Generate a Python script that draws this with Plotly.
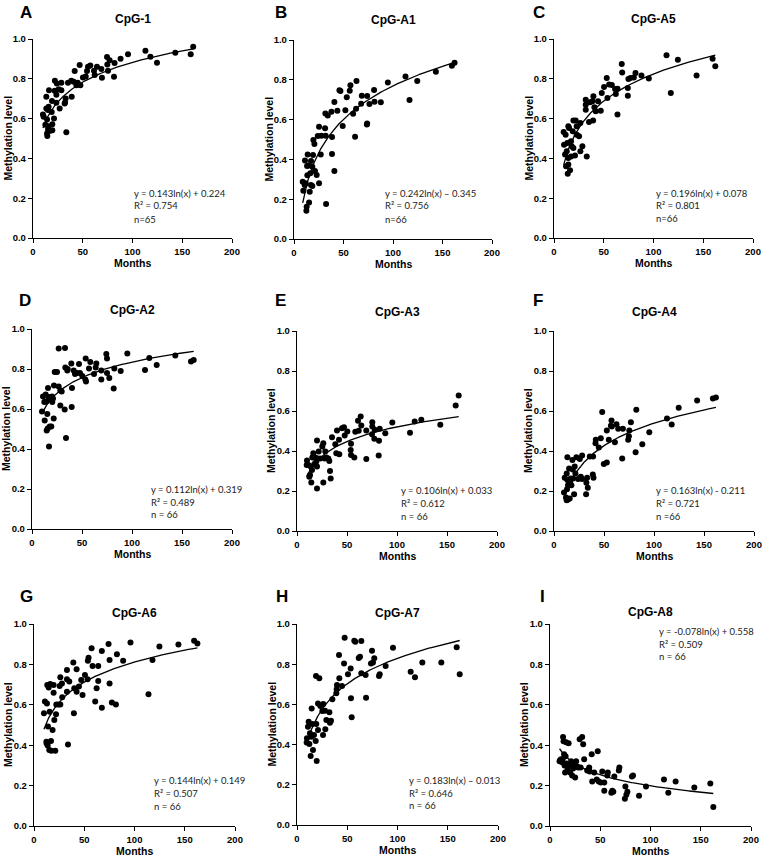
import numpy as np
import plotly.graph_objects as go

W, H = 763, 861

# ---------------- data (months, methylation level) ----------------
months_A = [161,158.5,143,124.6,118,113,95.5,88,82,81.4,77,74.4,74.7,75.4,69.3,68.7,64.3,62,61.3,57.6,
            55.3,54.3,53,50.2,47.6,46.9,44.9,41.9,40.9,38.5,38.9,35.2,33.5,32.8,32.2,28.5,28.5,26.8,25.8,23.5,
            22,21.8,21.1,19.4,19.4,17.4,19.1,18.8,16.1,15.7,15.1,15.1,14.4,14.1,13.4,14.1,13.4,12.4,10.7,10,
            15.7,23.5,31.8,43.6,24]
level_A = [0.961,0.923,0.931,0.881,0.911,0.941,0.923,0.901,0.879,0.81,0.893,0.909,0.872,0.84,0.805,0.849,0.861,0.819,0.84,0.867,
           0.861,0.839,0.812,0.807,0.768,0.869,0.78,0.839,0.785,0.79,0.71,0.78,0.532,0.701,0.681,0.743,0.78,0.651,0.747,0.72,
           0.79,0.74,0.601,0.572,0.542,0.539,0.688,0.633,0.743,0.659,0.643,0.545,0.512,0.525,0.71,0.596,0.651,0.569,0.609,0.621,
           0.562,0.68,0.676,0.768,0.777]

months_B = [162.2,159.5,143.3,124.5,116.7,112.6,94.8,87.7,81.3,80.9,76.2,73.9,73.6,73.9,68.5,67.8,63.1,62.7,61.7,59.7,
            57,56.3,53.3,51.9,49.2,46.9,45.9,43.8,40.8,40.8,38.4,38.4,37.8,34.1,31.7,31.4,32.4,32,27.7,27,
            25.3,25.3,24,21.2,20.6,19.6,19.2,18.5,18.5,17.2,16.5,15.9,15.2,14.5,13.8,13.5,13.2,12.8,12.5,11.8,
            11.1,10.8,8.8,9.4,17.2,22.9]
level_B = [0.886,0.871,0.841,0.794,0.698,0.816,0.786,0.687,0.69,0.749,0.678,0.719,0.576,0.581,0.72,0.68,0.794,0.655,0.514,0.63,
           0.772,0.745,0.712,0.647,0.568,0.744,0.747,0.645,0.688,0.342,0.427,0.513,0.64,0.62,0.631,0.556,0.176,0.519,0.519,0.424,
           0.564,0.28,0.518,0.342,0.477,0.497,0.422,0.363,0.266,0.392,0.33,0.238,0.184,0.369,0.425,0.32,0.367,0.162,0.142,0.28,
           0.394,0.271,0.288,0.243,0.271,0.322]

months_C = [162.1,159.4,143.3,124.5,117.4,113.1,95.3,87.9,81.9,80.2,76.8,74.8,74.2,74.2,68.5,68.1,63.8,63.8,62.1,61.4,
            58.1,55.4,53.7,53,50.3,48,47,44.3,41.9,40.6,39.6,39.3,38.6,35.2,32.9,31.9,31.9,31.9,28.5,26.5,
            26.5,25.2,22.8,21.8,21.1,19.5,19.5,18.8,17.1,17.1,16.1,15.1,14.4,14.4,13.8,13.4,12.8,12.1,11.1,10.1,
            9.7,14.4,17.8,11.7,22.8,36.2]
level_C = [0.863,0.901,0.816,0.896,0.729,0.918,0.802,0.816,0.829,0.807,0.804,0.799,0.754,0.715,0.832,0.874,0.62,0.75,0.724,0.749,
           0.769,0.771,0.704,0.804,0.759,0.729,0.64,0.687,0.637,0.657,0.712,0.591,0.687,0.583,0.409,0.695,0.645,0.67,0.461,0.436,
           0.578,0.511,0.561,0.591,0.415,0.591,0.452,0.536,0.41,0.486,0.34,0.553,0.402,0.369,0.323,0.477,0.436,0.36,0.419,0.469,
           0.533,0.561,0.461,0.519,0.519,0.682]

months_D = [161.7,159,143.3,124.7,117.3,113,95.3,88.7,82.3,81.7,77.3,75,75,74.3,69.3,69.3,64.3,63.7,62,58.3,
            57,54,53.7,53.3,50.3,48,47,45,43,41.7,40,39.7,39.3,35.7,34,32.7,33.3,33,28.3,28.3,
            26.7,26.7,25,22.7,21.7,22,20.3,20,19.3,17.7,17,16.7,16,15.7,15.3,14.7,14.3,13.7,12.7,12.3,
            11,10,17.7,21,29.7,35.3]
level_D = [0.845,0.837,0.868,0.82,0.855,0.795,0.877,0.79,0.802,0.702,0.755,0.78,0.852,0.875,0.792,0.747,0.827,0.808,0.775,0.835,
           0.802,0.738,0.852,0.748,0.765,0.78,0.825,0.78,0.775,0.792,0.705,0.61,0.827,0.8,0.455,0.597,0.807,0.905,0.618,0.692,
           0.712,0.902,0.785,0.785,0.552,0.718,0.635,0.663,0.513,0.513,0.412,0.66,0.705,0.502,0.575,0.493,0.638,0.672,0.542,0.635,
           0.663,0.588,0.647,0.652,0.688,0.793]

months_E = [161.7,158.7,143.3,124.3,117.7,113,95.3,88.3,82.7,82,81.7,77.7,77.3,75.3,75.3,75,69.3,69.3,64.3,63.7,
            61.7,61,58.3,57.3,54,54,53.7,50.3,47.7,47,45,42.3,42,40,39.3,38.3,35,33.7,33,32.3,
            31.3,28.3,27.7,26.3,26.3,25.3,21.7,20.7,20,20,19.3,18.3,17.3,16.3,15.3,14.3,13.7,13,12.3,11.3,
            10,9.7,23.3,15,29.3,20]
level_E = [0.678,0.628,0.531,0.556,0.548,0.491,0.543,0.489,0.511,0.451,0.377,0.506,0.461,0.544,0.523,0.484,0.36,0.503,0.528,0.573,
           0.501,0.551,0.496,0.367,0.38,0.436,0.405,0.497,0.477,0.519,0.514,0.384,0.456,0.503,0.389,0.434,0.469,0.263,0.3,0.35,
           0.363,0.397,0.363,0.243,0.439,0.422,0.397,0.363,0.213,0.452,0.347,0.367,0.335,0.389,0.367,0.243,0.322,0.28,0.271,0.33,
           0.352,0.33,0.363,0.305,0.367,0.322]

months_F = [161.9,158.9,143.1,124.7,117.7,113,95.3,88.3,81.6,82.3,76.9,75.3,74.9,74.2,68.9,68.2,64.2,62.5,60.9,57.5,
            56.9,54.8,52.8,52.8,49.8,48.2,46.8,44.8,41.8,41.5,39.1,38.8,39.5,35.8,33.8,33.1,32.4,32.1,28.1,28.1,
            25.8,24.1,22.4,20.7,20.1,19.1,18.7,18.4,16.7,15.7,15.1,14,13.4,13.4,13,12.7,12,10.7,10,14,
            17.4,21.4,26.8,12.7,16.1,57.8]
level_F = [0.668,0.662,0.653,0.616,0.533,0.563,0.494,0.434,0.394,0.606,0.544,0.503,0.474,0.456,0.511,0.363,0.511,0.534,0.444,0.553,
           0.526,0.456,0.503,0.342,0.335,0.595,0.464,0.417,0.456,0.439,0.372,0.283,0.266,0.372,0.216,0.266,0.241,0.184,0.377,0.26,
           0.36,0.26,0.369,0.322,0.184,0.263,0.308,0.355,0.263,0.162,0.313,0.157,0.369,0.255,0.209,0.154,0.168,0.266,0.193,0.229,
           0.229,0.288,0.271,0.288,0.246,0.522]

months_G = [162.6,159.3,143.7,124.8,117.9,113.9,96,88.7,82.5,81.5,77.5,75.2,75.2,74.2,67.5,67.5,63.9,63.9,62.3,60.9,
            58.3,57.3,54.3,53.6,53.3,50.7,48.3,47,44.7,42.4,42.4,40.1,39.1,39.7,35.1,33.8,32.8,32.8,32.8,28.1,
            27.8,26.2,26.2,25.5,22.2,21.9,21.2,20.2,19.5,19.5,18.5,17.2,16.2,16.9,15.6,15.2,14.6,13.9,13.6,13.2,
            12.9,12.3,10.9,9.9,12.6,24.5]
level_G = [0.904,0.917,0.899,0.888,0.822,0.652,0.908,0.818,0.85,0.602,0.611,0.822,0.706,0.901,0.866,0.586,0.792,0.718,0.682,0.616,
           0.792,0.88,0.833,0.818,0.726,0.748,0.649,0.723,0.69,0.776,0.665,0.682,0.809,0.558,0.715,0.404,0.772,0.726,0.665,0.637,
           0.706,0.736,0.602,0.693,0.602,0.553,0.373,0.525,0.66,0.698,0.475,0.373,0.703,0.421,0.566,0.376,0.686,0.492,0.398,0.698,
           0.607,0.417,0.616,0.558,0.409,0.602]

months_H = [161.9,158.9,143.6,124.7,117.4,113.1,95.5,88.2,82.3,81.6,76.9,75.6,74.6,73.6,68.7,68.3,64,64,62.7,61.4,
            58,57,54.4,53.7,53.4,50.7,47.4,46.8,44.8,42.1,41.8,39.8,39.5,39.1,35.2,33.8,32.8,32.2,28.2,27.9,
            26.2,25.9,25.2,23.2,22.2,20.9,20.9,19.2,18.9,19.6,18.6,16.9,15.9,15.3,14.6,13.6,12.9,12.3,11.6,10.9,
            9.9,9.6,14.3,29.2]
level_H = [0.75,0.884,0.808,0.808,0.735,0.763,0.882,0.791,0.75,0.741,0.829,0.808,0.867,0.804,0.633,0.746,0.755,0.915,0.837,0.831,
           0.912,0.917,0.536,0.63,0.778,0.75,0.932,0.804,0.692,0.73,0.846,0.697,0.675,0.655,0.625,0.519,0.509,0.561,0.476,0.569,
           0.602,0.448,0.567,0.592,0.73,0.605,0.473,0.502,0.741,0.318,0.418,0.448,0.373,0.502,0.58,0.343,0.456,0.403,0.514,0.489,
           0.431,0.41,0.439,0.522]

months_I = [162.5,159.5,143.6,125,117.7,113.4,95.5,88.6,82.6,81.5,77,76,75,74.5,69,68.5,64,63,62,61,
            57.5,57,54,54,52,50.5,48.5,47.5,46.5,44,42,41.5,39.5,39,37,34,33,32,30.5,29.5,
            27,26,25,24,23,22,21,20,19,18.5,17.5,16.5,16,15.5,15,14.5,14,13.5,13,12.5,
            12,11,10,9.5,20,28]
level_I = [0.094,0.21,0.19,0.22,0.165,0.23,0.195,0.15,0.25,0.245,0.17,0.155,0.195,0.135,0.29,0.275,0.245,0.17,0.175,0.165,
           0.265,0.25,0.215,0.175,0.27,0.215,0.22,0.37,0.23,0.265,0.22,0.355,0.27,0.29,0.275,0.33,0.405,0.44,0.29,0.43,
           0.295,0.32,0.24,0.31,0.285,0.25,0.32,0.265,0.305,0.41,0.28,0.31,0.415,0.345,0.265,0.3,0.355,0.42,0.44,0.33,
           0.315,0.33,0.325,0.32,0.3,0.29]

letters = ["A", "B", "C", "D", "E", "F", "G", "H", "I"]
titles = ["CpG-1", "CpG-A1", "CpG-A5", "CpG-A2", "CpG-A3", "CpG-A4", "CpG-A6", "CpG-A7", "CpG-A8"]
# coefficients of the drawn logarithmic trend lines (panel C's drawn line has a negative intercept)
fit_a = [0.143, 0.242, 0.196, 0.112, 0.106, 0.163, 0.144, 0.183, -0.078]
fit_b = [0.224, -0.345, -0.078, 0.319, 0.033, -0.211, 0.149, -0.013, 0.558]
eq_text = [
    ["y = 0.143ln(x) + 0.224", "R² = 0.754", "n=65"],
    ["y = 0.242ln(x) – 0.345", "R² = 0.756", "n=66"],
    ["y = 0.196ln(x) + 0.078", "R² = 0.801", "n=66"],
    ["y = 0.112ln(x) + 0.319", "R² = 0.489", "n = 66"],
    ["y = 0.106ln(x) + 0.033", "R² = 0.612", "n = 66"],
    ["y = 0.163ln(x) - 0.211", "R² = 0.721", "n =66"],
    ["y = 0.144ln(x) + 0.149", "R² = 0.507", "n = 66"],
    ["y = 0.183ln(x) – 0.013", "R² = 0.646", "n = 66"],
    ["y = -0.078ln(x) + 0.558", "R² = 0.509", "n = 66"],
]
x_ticks = [0, 50, 100, 150, 200]
y_ticks = [0.0, 0.2, 0.4, 0.6, 0.8, 1.0]

months = [months_A, months_B, months_C, months_D, months_E, months_F, months_G, months_H, months_I]
levels = [level_A, level_B, level_C, level_D, level_E, level_F, level_G, level_H, level_I]

# ---------------- layout geometry (pixels) ----------------
plot_px = [  # x0, x1, ytop, ybottom
    (33, 232, 39, 238), (294, 492, 40, 239), (554, 753, 39, 238),
    (32, 232, 329, 529), (297, 497, 331, 531), (554, 754, 331, 531),
    (34, 235, 624, 826), (297, 498, 624, 825), (550, 751, 624, 826),
]
letter_px = [(18, 13), (273, 13), (531, 13), (17, 300), (273, 300), (531, 300),
             (18, 596), (274, 596), (538, 596)]
title_y = [19, 20, 19, 310, 312, 312, 613, 613, 612]
eq_pos = [  # data-x of left edge, y of three lines
    (99, [0.223, 0.161, 0.094]), (90, [0.229, 0.168, 0.1]), (100, [0.226, 0.164, 0.097]),
    (117, [0.2, 0.135, 0.072]), (102, [0.201, 0.137, 0.075]), (100, [0.201, 0.137, 0.075]),
    (117, [0.223, 0.162, 0.099]), (109, [0.219, 0.158, 0.095]), (106, [0.962, 0.901, 0.841]),
]

def px(x):
    return x / W

def py(y):
    return 1 - y / H

BOLD = "Liberation Sans, Arial, sans-serif"
fig = go.Figure()
layout = dict(
    width=W, height=H, margin=dict(l=0, r=0, t=0, b=0),
    paper_bgcolor="white", plot_bgcolor="white", showlegend=False,
    template="none",
)
annotations = []

for i in range(9):
    n = i + 1
    xa = "x" if n == 1 else f"x{n}"
    ya = "y" if n == 1 else f"y{n}"
    mx = months[i]
    lv = levels[i]
    fig.add_trace(go.Scatter(x=mx, y=lv, mode="markers", xaxis=xa, yaxis=ya,
                             marker=dict(color="black", size=6, line=dict(width=0)),
                             cliponaxis=False))
    xs = np.linspace(min(mx), max(mx), 200)
    fig.add_trace(go.Scatter(x=xs, y=fit_a[i] * np.log(xs) + fit_b[i], mode="lines",
                             xaxis=xa, yaxis=ya, line=dict(color="black", width=1.3)))

    x0, x1, yt, yb = plot_px[i]
    axis_common = dict(showline=True, linecolor="black", linewidth=1.4, ticks="outside",
                       ticklen=4, tickwidth=1.4, tickcolor="black", showgrid=False,
                       zeroline=False, automargin=False,
                       tickfont=dict(family=BOLD, size=9.5, color="black", weight="bold"))
    layout["xaxis" if n == 1 else f"xaxis{n}"] = dict(
        domain=[px(x0), px(x1)], anchor=ya, range=[0, 200], tickvals=x_ticks, **axis_common)
    layout["yaxis" if n == 1 else f"yaxis{n}"] = dict(
        domain=[py(yb), py(yt)], anchor=xa, range=[0, 1], tickvals=y_ticks,
        tickformat=".1f", **axis_common)

    # panel letter
    lx, ly = letter_px[i]
    annotations.append(dict(text=f"<b>{letters[i]}</b>", x=px(lx), y=py(ly), xref="paper", yref="paper",
                            xanchor="left", yanchor="middle", showarrow=False,
                            font=dict(family=BOLD, size=17, color="black")))
    # title
    annotations.append(dict(text=f"<b>{titles[i]}</b>", x=px((x0 + x1) / 2), y=py(title_y[i]),
                            xref="paper", yref="paper", xanchor="center", yanchor="middle",
                            showarrow=False, font=dict(family=BOLD, size=12, color="black")))
    # axis titles
    annotations.append(dict(text="<b>Months</b>", x=px((x0 + x1) / 2), y=py(yb + 25),
                            xref="paper", yref="paper", xanchor="center", yanchor="middle",
                            showarrow=False, font=dict(family=BOLD, size=10.5, color="black")))
    annotations.append(dict(text="<b>Methylation level</b>", x=px(x0 - 26), y=py((yt + yb) / 2),
                            xref="paper", yref="paper", xanchor="center", yanchor="middle",
                            textangle=-90, showarrow=False,
                            font=dict(family=BOLD, size=10.5, color="black")))
    # equation text
    ex, eys = eq_pos[i]
    for t, ey in zip(eq_text[i], eys):
        annotations.append(dict(text=t, x=ex, y=ey, xref=xa, yref=ya, xanchor="left",
                                yanchor="middle", showarrow=False,
                                font=dict(family="Lato, Open Sans, sans-serif", size=9.5, color="#222")))

layout["annotations"] = annotations
fig.update_layout(**layout)
fig.write_html("out.html", config={"displayModeBar": False},
               post_script="document.body.style.margin='0px';")
